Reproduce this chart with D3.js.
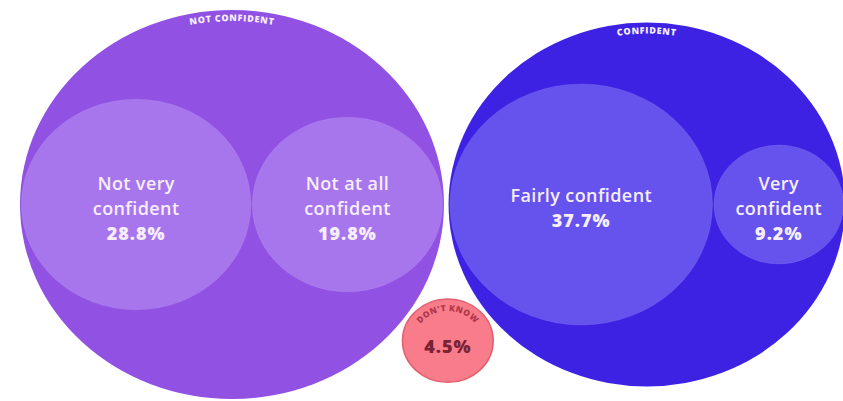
<!DOCTYPE html>
<html>
<head>
<meta charset="utf-8">
<script src="https://cdn.jsdelivr.net/npm/d3@7"></script>
<style>
  html, body { margin: 0; padding: 0; background: #ffffff; }
  svg { display: block; }
</style>
</head>
<body>
<svg id="chart" width="843" height="401"></svg>
<script>
// Survey shares (%) grouped by confidence level
const groups = ["Not confident", "Confident", "Don't know"];
const groupLabels = ["NOT CONFIDENT", "CONFIDENT", "DON'T KNOW"];
const categories = ["Not very confident", "Not at all confident", "Fairly confident", "Very confident"];
const categoryGroup = ["Not confident", "Not confident", "Confident", "Confident"];
const categoryLines = [["Not very", "confident"], ["Not at all", "confident"], ["Fairly confident"], ["Very", "confident"]];
const shares = [28.8, 19.8, 37.7, 9.2];
const dontKnowShare = 4.5;

const groupFill = { "Not confident": "#9151e3", "Confident": "#3d22e4", "Don't know": "#f97c8b" };
const childFill = { "Not confident": "#a876ec", "Confident": "#6652ed" };

const svg = d3.select("#chart");
const fmt = v => d3.format(".1f")(v) + "%";

// Build the hierarchy: two groups with children, plus a single leaf
const tree = {
  name: "root",
  children: groups.map((g, gi) => {
    if (g === "Don't know") return { name: g, label: groupLabels[gi], value: dontKnowShare };
    return {
      name: g,
      label: groupLabels[gi],
      children: categories
        .map((c, i) => ({ name: c, group: categoryGroup[i], lines: categoryLines[i], value: shares[i] }))
        .filter(d => d.group === g)
    };
  })
};

const root = d3.hierarchy(tree)
  .sum(d => d.value || 0)
  .sort((a, b) => b.value - a.value);

d3.pack()
  .size([800, 800])
  .padding(d => d.depth === 0 ? 4.5 : 1.3)(root);

const groupNodes = root.children;
const nc = groupNodes.find(d => d.data.name === "Not confident");
const cf = groupNodes.find(d => d.data.name === "Confident");

// The layout is drawn slightly wider than tall
const x = d3.scaleLinear().domain([nc.x - nc.r, cf.x + cf.r]).range([20, 845]);
const y = d3.scaleLinear().domain([nc.y - nc.r, nc.y + nc.r]).range([10, 399]);
const sx = (x.range()[1] - x.range()[0]) / (x.domain()[1] - x.domain()[0]);
const sy = (y.range()[1] - y.range()[0]) / (y.domain()[1] - y.domain()[0]);

const nodes = root.descendants().filter(d => d.depth > 0);

const fillOf = d => d.depth === 1 ? groupFill[d.data.name] : childFill[d.parent.data.name];

svg.selectAll("ellipse.node")
  .data(nodes)
  .join("ellipse")
  .attr("class", "node")
  .attr("cx", d => x(d.x))
  .attr("cy", d => y(d.y))
  .attr("rx", d => d.r * sx)
  .attr("ry", d => d.r * sy)
  .attr("fill", fillOf)
  .attr("stroke", d => d.data.name === "Don't know" ? "#e2606f" : (d.depth === 1 ? "none" : "rgba(255,255,255,0.08)"))
  .attr("stroke-width", d => d.data.name === "Don't know" ? 1.5 : 1);

// Curved group titles along the top of each group ellipse
const defs = svg.append("defs");
groupNodes.forEach((d, i) => {
  const isDK = d.data.name === "Don't know";
  const cx = x(d.x), cy = y(d.y);
  const off = isDK ? 12 : 11;
  const a = d.r * sx - off, b = d.r * sy - off;
  defs.append("path")
    .attr("id", "arc" + i)
    .attr("d", `M${cx - a},${cy} A${a},${b} 0 0 1 ${cx + a},${cy}`);
  svg.append("text")
    .attr("font-family", "'Open Sans', sans-serif")
    .attr("font-weight", 800)
    .attr("font-size", isDK ? 8.5 : 9)
    .attr("letter-spacing", isDK ? 0.4 : 0.7)
    .attr("fill", isDK ? "#b0364a" : "#f6efff")
    .append("textPath")
    .attr("href", "#arc" + i)
    .attr("startOffset", "50%")
    .attr("text-anchor", "middle")
    .text(d.data.label);
});

// Leaf labels: name lines plus the share
const lineH = 25;
root.leaves().forEach(d => {
  const cx = x(d.x), cy = y(d.y);
  const isDK = d.data.name === "Don't know";
  const lines = isDK ? [] : d.data.lines;
  const total = lines.length + 1;
  const shift = isDK ? 5 : 3;
  const t = svg.append("text")
    .attr("font-family", "'Open Sans', sans-serif")
    .attr("text-anchor", "middle")
    .attr("fill", isDK ? "#7a2233" : "#f6eeff");
  lines.forEach((ln, j) => {
    t.append("tspan")
      .attr("x", cx)
      .attr("y", cy + shift + (j - (total - 1) / 2) * lineH)
      .attr("dominant-baseline", "central")
      .attr("font-size", 18)
      .attr("font-weight", 600)
      .attr("letter-spacing", 0.4)
      .text(ln);
  });
  t.append("tspan")
    .attr("x", cx)
    .attr("y", cy + shift + (lines.length - (total - 1) / 2) * lineH)
    .attr("dominant-baseline", "central")
    .attr("font-size", 18)
    .attr("font-weight", 800)
    .attr("letter-spacing", 1)
    .text(fmt(d.data.value));
});
</script>
</body>
</html>
